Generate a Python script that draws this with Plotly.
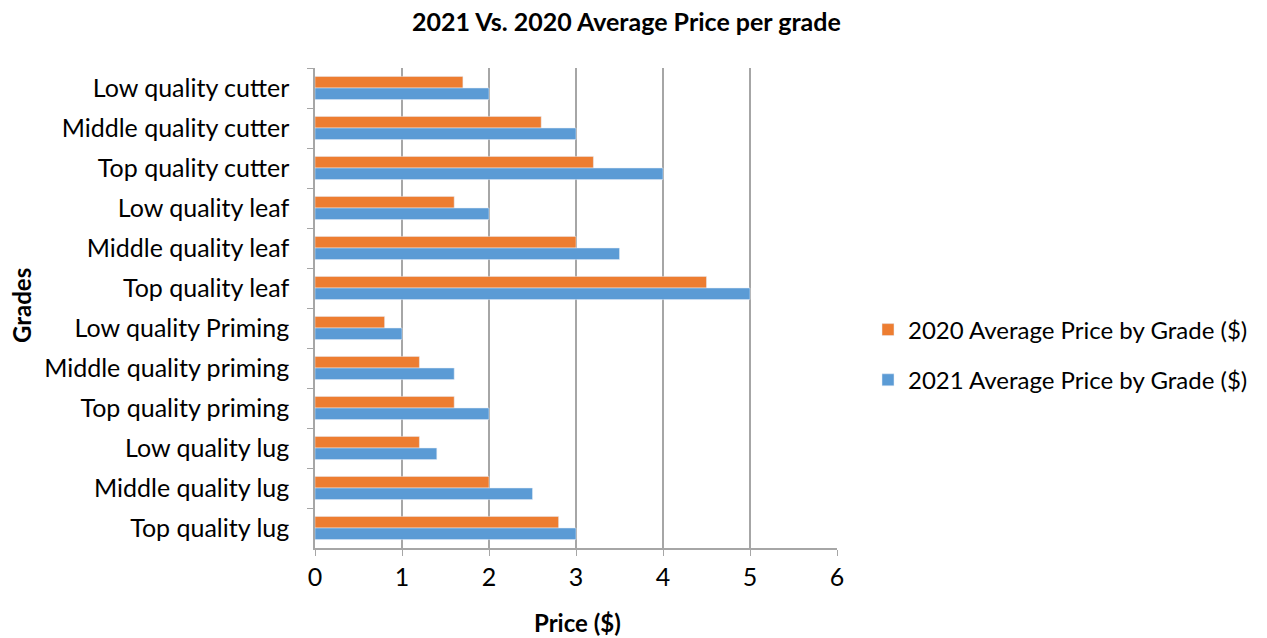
import plotly.graph_objects as go

categories = ["Low quality cutter", "Middle quality cutter", "Top quality cutter",
              "Low quality leaf", "Middle quality leaf", "Top quality leaf",
              "Low quality Priming", "Middle quality priming", "Top quality priming",
              "Low quality lug", "Middle quality lug", "Top quality lug"]
price_2020 = [1.7, 2.6, 3.2, 1.6, 3.0, 4.5, 0.8, 1.2, 1.6, 1.2, 2.0, 2.8]
price_2021 = [2.0, 3.0, 4.0, 2.0, 3.5, 5.0, 1.0, 1.6, 2.0, 1.4, 2.5, 3.0]
x_ticks = [0, 1, 2, 3, 4, 5, 6]

FONT = "Lato"
FS = 25

# body margin is removed by the post script, so figure coords == page coords
W, H = 1267, 638
L, R, T, B = 315, 1267 - 837, 68, 638 - 548
PW, PH = W - L - R, H - T - B


def px(xs):
    return (xs - L) / PW


def py(ys):
    return (H - B - ys) / PH


fig = go.Figure()
fig.add_trace(go.Bar(y=categories, x=price_2020, orientation="h", legendgroup="a",
                     name="2020 Average Price by Grade ($)", marker_color="#ED7D31"))
fig.add_trace(go.Bar(y=categories, x=price_2021, orientation="h", legendgroup="b",
                     name="2021 Average Price by Grade ($)", marker_color="#5B9BD5"))

fig.update_layout(
    width=W, height=H,
    paper_bgcolor="white", plot_bgcolor="white",
    margin=dict(l=L, r=R, t=T, b=B, autoexpand=False),
    barmode="group", bargap=0.42, bargroupgap=0,
    font=dict(family=FONT, size=FS, color="#000000"),
    legend=dict(x=px(868), xanchor="left", y=py(355), yanchor="middle",
                font=dict(family=FONT, size=24), traceorder="grouped",
                tracegroupgap=16, itemwidth=30),
    xaxis=dict(range=[0, 6], tickvals=x_ticks, showgrid=True, gridcolor="#A6A6A6",
               gridwidth=1.5, showline=True, linecolor="#A6A6A6", linewidth=1.5,
               ticks="outside", ticklen=6, tickcolor="#A6A6A6", zeroline=False,
               automargin=False, tickfont=dict(size=FS)),
    yaxis=dict(autorange="reversed", showline=True, linecolor="#A6A6A6", linewidth=1.5,
               ticks="outside", ticklen=6, tickcolor="#A6A6A6", tickson="boundaries",
               showgrid=False, automargin=False, ticklabelstandoff=19,
               tickfont=dict(size=FS)),
    annotations=[
        dict(text="<b>2021 Vs. 2020 Average Price per grade</b>", xref="paper", yref="paper",
             x=px(626), y=py(21), xanchor="center", yanchor="middle",
             showarrow=False, font=dict(family=FONT, size=25)),
        dict(text="<b>Price ($)</b>", xref="paper", yref="paper",
             x=px(577), y=py(622), xanchor="center", yanchor="middle",
             showarrow=False, font=dict(family=FONT, size=24)),
        dict(text="<b>Grades</b>", xref="paper", yref="paper", textangle=-90,
             x=px(21), y=py(306), xanchor="center", yanchor="middle",
             showarrow=False, font=dict(family=FONT, size=24)),
    ],
)

fig.write_html("out.html", config={"displayModeBar": False},
               post_script="document.body.style.margin='0';")
